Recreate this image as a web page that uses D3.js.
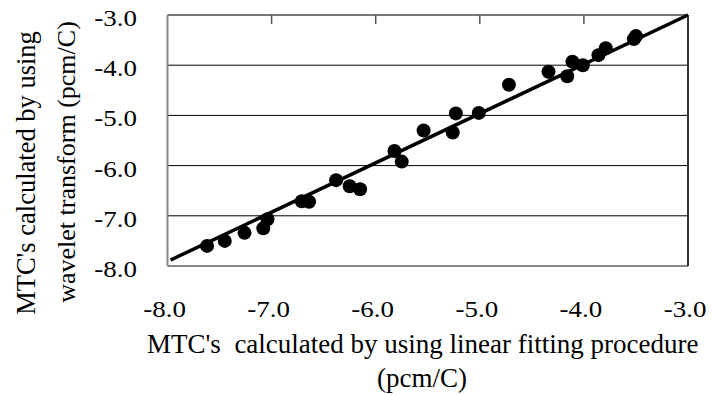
<!DOCTYPE html>
<html>
<head>
<meta charset="utf-8">
<script src="https://cdn.jsdelivr.net/npm/d3@7"></script>
<style>
  body { margin: 0; background: #fff; }
  svg { display: block; }
</style>
</head>
<body>
<svg width="712" height="395"></svg>
<script>
// MTC from linear fitting (x) vs MTC from wavelet transform (y), pcm/C
var linearMTC  = [-7.62, -7.45, -7.26, -7.08, -7.04, -6.71, -6.64, -6.38, -6.25, -6.15,
                  -5.82, -5.75, -5.54, -5.26, -5.23, -5.01, -4.72, -4.34, -4.16, -4.11,
                  -4.01, -3.86, -3.79, -3.52, -3.50];
var waveletMTC = [-7.60, -7.50, -7.34, -7.25, -7.07, -6.71, -6.72, -6.29, -6.41, -6.47,
                  -5.71, -5.92, -5.30, -5.34, -4.96, -4.95, -4.39, -4.13, -4.22, -3.93,
                  -4.00, -3.80, -3.66, -3.48, -3.42];
var xTicks = [-8, -7, -6, -5, -4, -3];
var yTicks = [-8, -7, -6, -5, -4, -3];
// fitted trend line
var fitSlope = 0.982, fitIntercept = -0.054;
var fitRange = [-7.97, -3.0];

var serif = "'Liberation Serif', 'Times New Roman', Times, 'DejaVu Serif', serif";
var svg = d3.select("svg").style("font-family", serif);
var pLeft = 167.5, pRight = 688, pTop = 15, pBottom = 266;

var x = d3.scaleLinear().domain([-8, -3]).range([pLeft, pRight]);
var y = d3.scaleLinear().domain([-8, -3]).range([pBottom, pTop]);
var fmt = function (d) { return d.toFixed(1); };

// gridlines
svg.append("g").selectAll("line")
  .data(yTicks.filter(function (d) { return d > -8 && d < -3; }))
  .enter().append("line")
  .attr("x1", pLeft).attr("x2", pRight)
  .attr("y1", function (d) { return y(d); })
  .attr("y2", function (d) { return y(d); })
  .attr("stroke", "#000").attr("stroke-width", 1);

// frame
svg.append("line").attr("x1", pLeft).attr("x2", pRight).attr("y1", pTop).attr("y2", pTop)
  .attr("stroke", "#777").attr("stroke-width", 2);
svg.append("line").attr("x1", pLeft).attr("x2", pRight).attr("y1", pBottom).attr("y2", pBottom)
  .attr("stroke", "#888").attr("stroke-width", 2);
svg.append("line").attr("x1", pLeft).attr("x2", pLeft).attr("y1", pTop).attr("y2", pBottom)
  .attr("stroke", "#888").attr("stroke-width", 2);
svg.append("line").attr("x1", pRight).attr("x2", pRight).attr("y1", pTop).attr("y2", pBottom)
  .attr("stroke", "#333").attr("stroke-width", 2);

// tick marks hanging from the top edge
svg.append("g").selectAll("line")
  .data(xTicks.filter(function (d) { return d > -8 && d < -3; }))
  .enter().append("line")
  .attr("x1", function (d) { return x(d); })
  .attr("x2", function (d) { return x(d); })
  .attr("y1", pTop).attr("y2", pTop + 9)
  .attr("stroke", "#555").attr("stroke-width", 1.5);

// tick labels (slightly wide lettering like the original)
svg.append("g").selectAll("text")
  .data(xTicks).enter().append("text")
  .attr("transform", function (d) { return "translate(" + (x(d) - 3) + ",317) scale(1.2,1)"; })
  .attr("text-anchor", "middle")
  .style("font-family", serif)
  .style("font-size", "22.5px")
  .text(fmt);

svg.append("g").selectAll("text")
  .data(yTicks).enter().append("text")
  .attr("transform", function (d) { return "translate(137," + (y(d) + 11) + ") scale(1.2,1)"; })
  .attr("text-anchor", "end")
  .style("font-family", serif)
  .style("font-size", "22.5px")
  .text(fmt);

// trend line
svg.append("line")
  .attr("x1", x(fitRange[0])).attr("y1", y(fitSlope * fitRange[0] + fitIntercept))
  .attr("x2", x(fitRange[1])).attr("y2", y(fitSlope * fitRange[1] + fitIntercept))
  .attr("stroke", "#000").attr("stroke-width", 3.5);

// points
svg.append("g").selectAll("circle")
  .data(d3.range(linearMTC.length)).enter().append("circle")
  .attr("cx", function (i) { return x(linearMTC[i]); })
  .attr("cy", function (i) { return y(waveletMTC[i]); })
  .attr("r", 7)
  .attr("fill", "#000");

// axis titles
svg.append("text")
  .attr("x", 147).attr("y", 353)
  .attr("text-anchor", "start")
  .style("font-family", serif)
  .style("font-size", "27px")
  .style("white-space", "pre")
  .text("MTC's  calculated by using linear fitting procedure");
svg.append("text")
  .attr("x", 422).attr("y", 387)
  .attr("text-anchor", "middle")
  .style("font-family", serif)
  .style("font-size", "27px")
  .text("(pcm/C)");

svg.append("text")
  .attr("transform", "translate(35,173) rotate(-90)")
  .attr("text-anchor", "middle")
  .style("font-family", serif)
  .style("font-size", "26.5px")
  .text("MTC's calculated by using");
svg.append("text")
  .attr("transform", "translate(75,162) rotate(-90)")
  .attr("text-anchor", "middle")
  .style("font-family", serif)
  .style("font-size", "26px")
  .text("wavelet transform (pcm/C)");
</script>
</body>
</html>
